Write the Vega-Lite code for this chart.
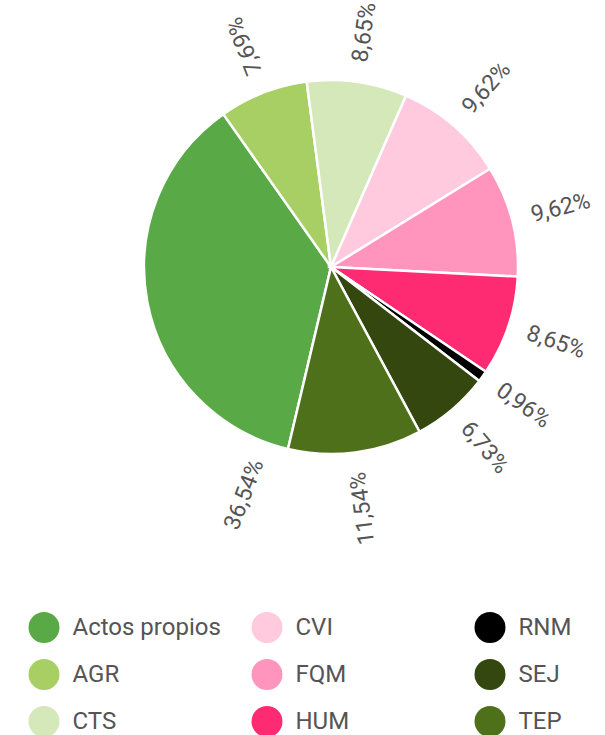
{
  "$schema": "https://vega.github.io/schema/vega-lite/v6.json",
  "width": 374,
  "height": 374,
  "autosize": {"type": "none"},
  "padding": {"left": 144, "top": 80, "right": 87, "bottom": 281},
  "config": {
    "view": {"stroke": null},
    "font": "Roboto",
    "locale": {"number": {"decimal": ",", "thousands": ".", "grouping": [3], "currency": ["", " €"]}}
  },
  "data": {
    "values": [
      {"grupo": "Actos propios", "orden": 1, "pct": 36.54},
      {"grupo": "AGR", "orden": 2, "pct": 7.69},
      {"grupo": "CTS", "orden": 3, "pct": 8.65},
      {"grupo": "CVI", "orden": 4, "pct": 9.62},
      {"grupo": "FQM", "orden": 5, "pct": 9.62},
      {"grupo": "HUM", "orden": 6, "pct": 8.65},
      {"grupo": "RNM", "orden": 7, "pct": 0.96},
      {"grupo": "SEJ", "orden": 8, "pct": 6.73},
      {"grupo": "TEP", "orden": 9, "pct": 11.54}
    ]
  },
  "layer": [
    {
      "mark": {"type": "arc", "outerRadius": 187, "stroke": "#ffffff", "strokeWidth": 2.5},
      "encoding": {
        "theta": {"field": "pct", "type": "quantitative", "stack": true, "scale": {"domain": [0, 100], "range": [3.3737, 9.6569]}},
        "order": {"field": "orden", "type": "quantitative", "sort": "ascending"},
        "color": {
          "field": "grupo",
          "type": "nominal",
          "scale": {
            "domain": ["Actos propios", "AGR", "CTS", "CVI", "FQM", "HUM", "RNM", "SEJ", "TEP"],
            "range": ["#59aa47", "#a7cf63", "#d4e8b9", "#ffc9de", "#ff94bd", "#ff2b72", "#000000", "#34470e", "#4f701b"]
          },
          "legend": {
            "orient": "none",
            "legendX": -115.5,
            "legendY": 532,
            "columns": 3,
            "title": null,
            "symbolType": "circle",
            "symbolSize": 960,
            "symbolStrokeWidth": 0,
            "symbolOpacity": 1,
            "labelFontSize": 24,
            "labelFont": "Roboto",
            "labelColor": "#555555",
            "labelOffset": 13,
            "labelLimit": 300,
            "columnPadding": 30,
            "rowPadding": 16,
            "gridAlign": "all",
            "padding": 0
          }
        }
      }
    },
    {
      "transform": [
        {"window": [{"op": "sum", "field": "pct", "as": "acum"}], "sort": [{"field": "orden", "order": "ascending"}], "frame": [null, 0]},
        {"calculate": "datum.pct > 30 ? datum.acum - datum.pct + 2.1 : datum.acum - datum.pct / 2", "as": "pos"},
        {"calculate": "datum.pct / 100", "as": "frac"},
        {"calculate": "193.3 + 3.6 * datum.pos - 90", "as": "a0"},
        {"calculate": "((datum.a0 + 180) % 360 + 360) % 360 - 180", "as": "a1"},
        {"calculate": "datum.a1 > 65 ? datum.a1 - 180 : datum.a1", "as": "giro"},
        {"calculate": "datum.a1 > 65 ? 'right' : 'left'", "as": "alin"}
      ],
      "layer": [
        {
          "transform": [{"filter": "datum.alin === 'left'"}],
          "mark": {"type": "text", "radius": 207, "fontSize": 23, "fill": "#555555", "baseline": "middle", "align": "left", "font": "Roboto"},
          "encoding": {
            "theta": {"field": "pos", "type": "quantitative", "stack": null, "scale": {"domain": [0, 100], "range": [3.3737, 9.6569]}},
            "angle": {"field": "giro", "type": "quantitative", "scale": null},
            "text": {"field": "frac", "type": "quantitative", "format": ".2%"}
          }
        },
        {
          "transform": [{"filter": "datum.alin === 'right'"}],
          "mark": {"type": "text", "radius": 207, "fontSize": 23, "fill": "#555555", "baseline": "middle", "align": "right", "font": "Roboto"},
          "encoding": {
            "theta": {"field": "pos", "type": "quantitative", "stack": null, "scale": {"domain": [0, 100], "range": [3.3737, 9.6569]}},
            "angle": {"field": "giro", "type": "quantitative", "scale": null},
            "text": {"field": "frac", "type": "quantitative", "format": ".2%"}
          }
        }
      ]
    }
  ]
}
